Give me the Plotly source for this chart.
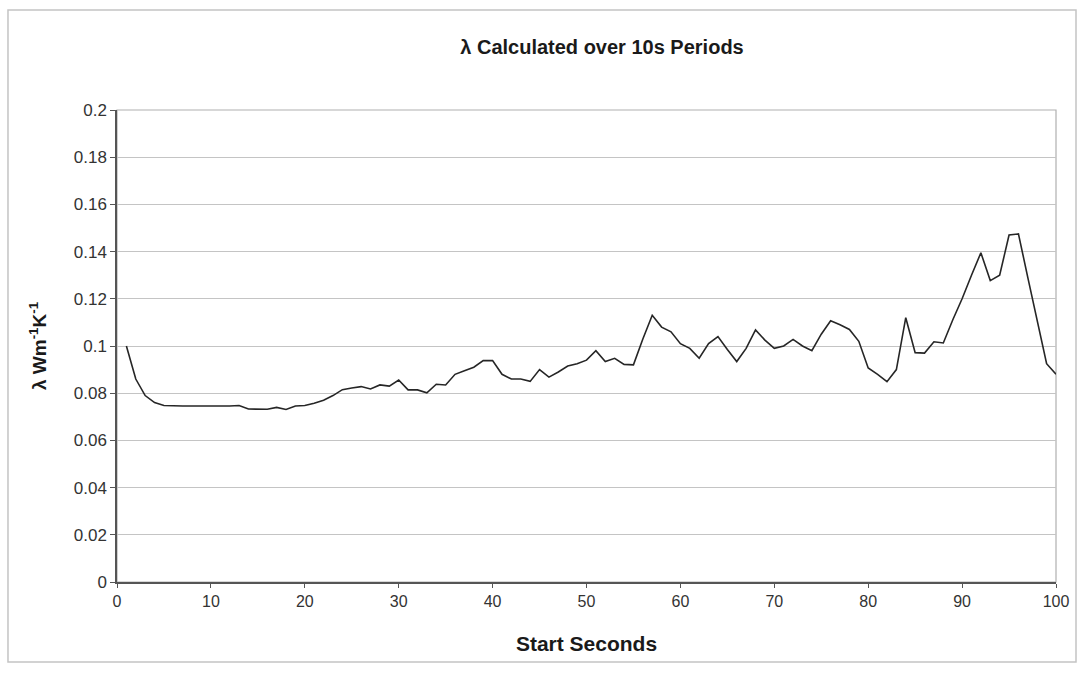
import plotly.graph_objects as go

# Start time of each 10 s window (s) and the conductivity calculated over it
start_seconds = list(range(1, 101))
lambda_values = [
    0.100, 0.086, 0.079, 0.076, 0.0748, 0.0746, 0.0746, 0.0746, 0.0745, 0.0746,
    0.0746, 0.0746, 0.0748, 0.0733, 0.0732, 0.0732, 0.0740, 0.0731, 0.0746, 0.0748,
    0.0757, 0.0770, 0.0790, 0.0815, 0.0822, 0.0828, 0.0818, 0.0835, 0.0830, 0.0856,
    0.0814, 0.0814, 0.0802, 0.0838, 0.0835, 0.0880, 0.0895, 0.0910, 0.0938, 0.0938,
    0.0880, 0.0860, 0.0860, 0.0850, 0.0900, 0.0868, 0.0890, 0.0915, 0.0925, 0.0940,
    0.0980, 0.0934, 0.0948, 0.0922, 0.0920, 0.1030, 0.1130, 0.1080, 0.1060, 0.1010,
    0.0990, 0.0948, 0.1010, 0.1040, 0.0985, 0.0934, 0.0990, 0.1068, 0.1025, 0.0990,
    0.1000, 0.1028, 0.1000, 0.0980, 0.1050, 0.1107, 0.1090, 0.1070, 0.1020, 0.0907,
    0.0880, 0.0849, 0.0900, 0.1120, 0.0972, 0.0970, 0.1018, 0.1013, 0.1110, 0.1200,
    0.1300, 0.1395, 0.1277, 0.1300, 0.1470, 0.1475, 0.1290, 0.1100, 0.0925, 0.0880,
]

y_tick_values = [0, 0.02, 0.04, 0.06, 0.08, 0.1, 0.12, 0.14, 0.16, 0.18, 0.2]
y_tick_labels = ["0", "0.02", "0.04", "0.06", "0.08", "0.1", "0.12", "0.14", "0.16", "0.18", "0.2"]
x_tick_values = [0, 10, 20, 30, 40, 50, 60, 70, 80, 90, 100]

FONT = "Liberation Sans, Arial, sans-serif"

fig = go.Figure(
    go.Scatter(
        x=start_seconds,
        y=lambda_values,
        mode="lines",
        line=dict(color="#262626", width=1.6),
        showlegend=False,
    )
)

fig.update_layout(
    width=1087,
    height=675,
    margin=dict(l=117, r=31, t=110, b=93),
    paper_bgcolor="white",
    plot_bgcolor="white",
    font=dict(family=FONT, color="#222222", size=16),
    title=dict(
        text="<b>λ Calculated over 10s Periods</b>",
        xref="container",
        x=602 / 1087,
        xanchor="center",
        y=1 - 47 / 675,
        yanchor="middle",
        font=dict(family=FONT, size=20, color="#1a1a1a"),
    ),
    shapes=[
        # outer chart frame
        dict(
            type="rect", xref="paper", yref="paper",
            x0=-0.1161, x1=1.0213, y0=-0.1695, y1=1.2119,
            line=dict(color="#c4c4c4", width=1.5), layer="below",
        ),
    ],
)

fig.update_xaxes(
    range=[0, 100],
    tickvals=x_tick_values,
    ticks="outside",
    ticklen=4,
    tickcolor="#555555",
    showgrid=False,
    showline=True,
    linecolor="#555555",
    linewidth=1.5,
    mirror=False,
    zeroline=False,
    tickfont=dict(size=16, color="#333333"),
    title=dict(text="<b>Start Seconds</b>", font=dict(size=21, color="#1a1a1a"), standoff=27),
)

fig.update_yaxes(
    range=[0, 0.2],
    tickvals=y_tick_values,
    ticktext=y_tick_labels,
    ticks="outside",
    ticklen=5,
    tickcolor="#555555",
    showgrid=True,
    gridcolor="#c4c4c4",
    gridwidth=1.3,
    showline=True,
    linecolor="#555555",
    linewidth=1.5,
    zeroline=False,
    tickfont=dict(size=17, color="#333333"),
    title=dict(
        text="<b>λ Wm<sup>-1</sup>K<sup>-1</sup></b>",
        font=dict(size=19, color="#1a1a1a"),
        standoff=22,
    ),
)

# light border on the top and right of the plotting area
fig.add_shape(
    type="rect", xref="paper", yref="paper", x0=0, x1=1, y0=0, y1=1,
    line=dict(color="#b0b0b0", width=1.2), layer="below",
)

fig.write_html("out.html")
